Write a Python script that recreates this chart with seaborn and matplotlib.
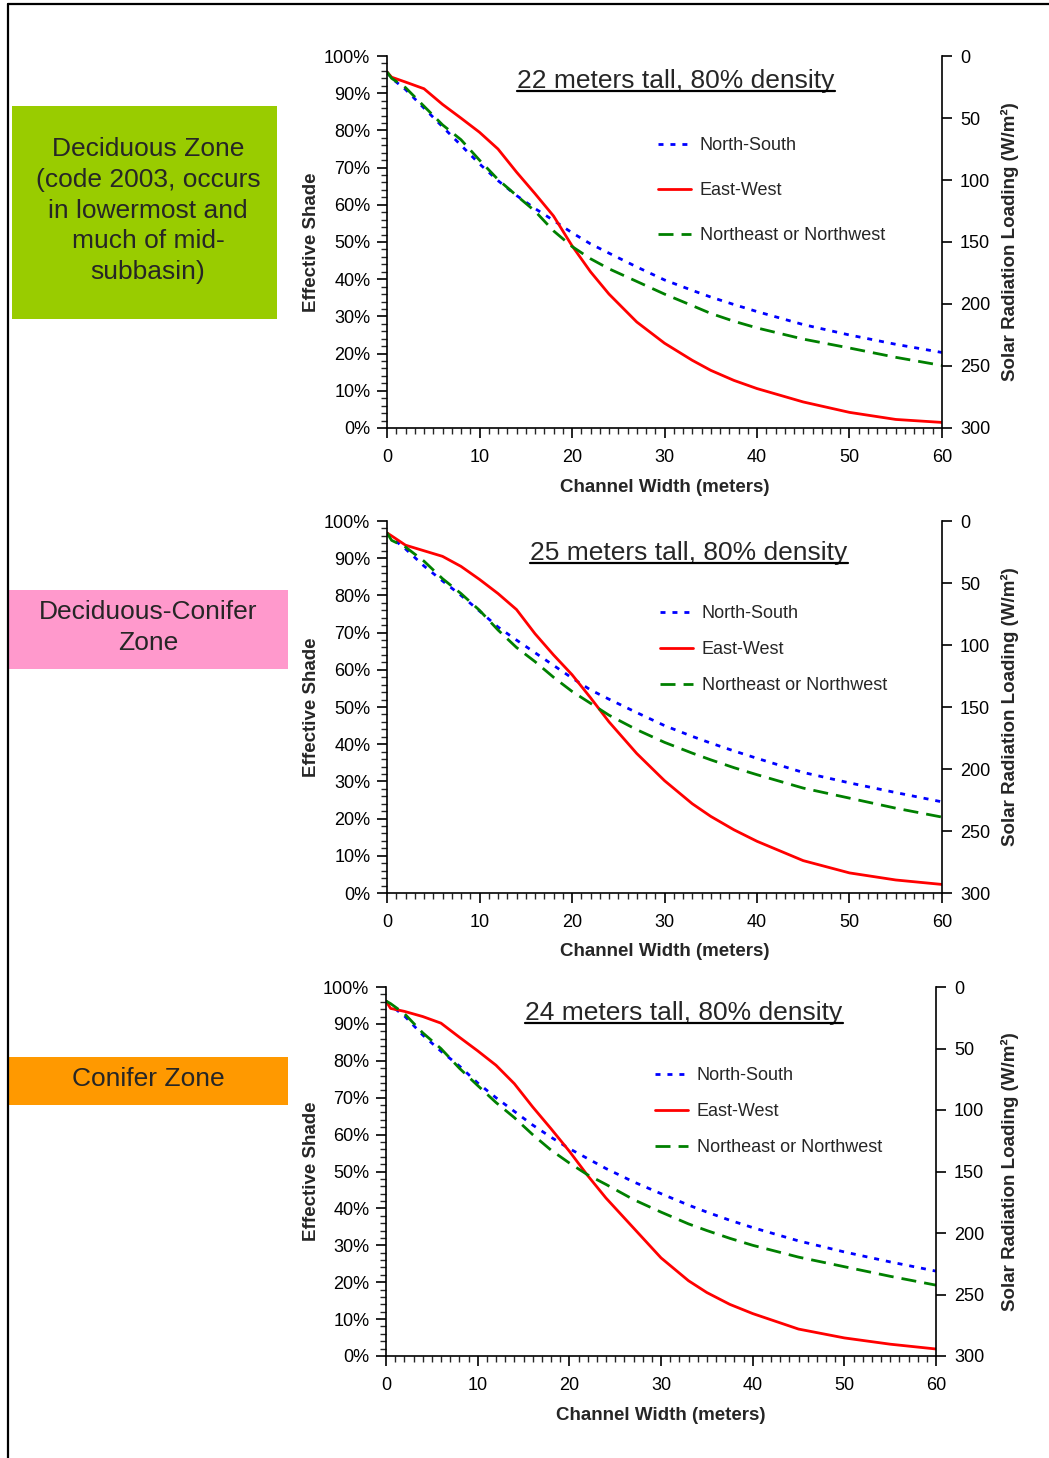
import pandas as pd
import matplotlib
matplotlib.use("Agg")
import matplotlib.pyplot as plt
import seaborn as sns
from matplotlib.ticker import MultipleLocator, FuncFormatter
from matplotlib.patches import Rectangle
from matplotlib.lines import Line2D

width_m = [0, 0.5, 2, 4, 6, 8, 10, 12, 14, 16, 18, 20, 22, 24, 27, 30, 33, 35, 37.5, 40, 45, 50, 55, 60]

# effective shade (%) - 22 m tall, 80% density
ns_22 = [95.7, 94.0, 91.0, 86.0, 81.0, 76.0, 71.0, 66.5, 62.5, 59.0, 55.8, 52.5, 49.5, 47.0, 43.3, 39.8, 37.0, 35.2, 33.2, 31.3, 27.8, 25.0, 22.5, 20.3]
ew_22 = [95.7, 94.3, 93.0, 91.2, 87.0, 83.3, 79.5, 75.0, 68.8, 63.0, 57.0, 49.0, 42.0, 36.0, 28.5, 22.8, 18.2, 15.5, 12.8, 10.6, 7.0, 4.2, 2.3, 1.5]
ne_22 = [95.7, 94.0, 91.5, 86.5, 81.5, 77.5, 72.0, 66.8, 62.5, 58.3, 53.0, 48.8, 45.5, 42.8, 39.4, 36.0, 32.9, 30.8, 28.7, 26.9, 23.9, 21.5, 19.0, 16.8]

# 25 m tall, 80% density
ns_25 = [96.8, 95.5, 92.5, 87.9, 83.9, 80.0, 75.8, 71.5, 68.0, 64.6, 61.2, 57.8, 54.6, 52.1, 48.5, 45.0, 42.1, 40.3, 38.2, 36.2, 32.4, 29.6, 27.0, 24.5]
ew_25 = [96.8, 96.0, 93.5, 92.0, 90.5, 87.8, 84.3, 80.5, 76.2, 69.7, 64.0, 58.7, 52.5, 46.0, 37.5, 30.2, 24.0, 20.6, 17.0, 13.9, 8.7, 5.4, 3.5, 2.3]
ne_25 = [96.8, 94.8, 93.0, 89.2, 84.5, 80.5, 76.0, 70.7, 66.0, 62.2, 58.0, 54.2, 51.0, 47.8, 43.9, 40.5, 37.6, 35.8, 33.7, 31.8, 28.2, 25.5, 22.8, 20.4]

# 24 m tall, 80% density
ns_24 = [96.2, 95.0, 92.2, 87.0, 82.6, 78.6, 74.0, 70.0, 66.3, 62.6, 59.3, 56.2, 53.5, 50.8, 47.2, 44.0, 40.9, 39.0, 36.8, 34.8, 31.2, 28.2, 25.5, 23.0]
ew_24 = [96.2, 94.2, 93.4, 92.0, 90.2, 86.4, 82.7, 78.8, 73.8, 67.5, 61.6, 55.5, 48.9, 42.8, 34.7, 26.6, 20.4, 17.2, 14.0, 11.5, 7.3, 4.9, 3.2, 1.9]
ne_24 = [96.2, 95.5, 92.8, 87.6, 83.3, 78.0, 73.3, 68.7, 64.6, 60.0, 55.8, 52.3, 49.1, 46.5, 42.4, 39.0, 35.8, 34.0, 31.9, 30.0, 26.8, 24.2, 21.6, 19.2]

orientations = ["North-South", "East-West", "Northeast or Northwest"]
panel_titles = ["22 meters tall, 80% density", "25 meters tall, 80% density", "24 meters tall, 80% density"]
zone_labels = ["Deciduous Zone\n(code 2003, occurs\nin lowermost and\nmuch of mid-\nsubbasin)",
               "Deciduous-Conifer\nZone", "Conifer Zone"]
panel_series = [(ns_22, ew_22, ne_22), (ns_25, ew_25, ne_25), (ns_24, ew_24, ne_24)]

sns.set_style("ticks")
plt.rcParams['font.family'] = ['Liberation Sans', 'DejaVu Sans']

W, H = 1049, 1458
fig = plt.figure(figsize=(W / 100, H / 100), dpi=100)

palette = {"North-South": "#0000FF", "East-West": "#FF0000", "Northeast or Northwest": "#008000"}
dashes = {"North-South": (1.8, 2.5), "East-West": "", "Northeast or Northwest": (5.4, 2.9)}
LW = 2.0

# pixel boxes of each axes: left, top, right, bottom
ax_px = [(387, 56, 942, 428), (387, 521, 942, 893), (386, 987, 936, 1356)]
legend_px = [(658, 137, 1.55), (660, 605, 1.05), (655, 1067, 1.05)]
title_px = [(676, 88), (689, 560), (684, 1020)]
zone_boxes = [((12, 106, 277, 319), "#99CC00"), ((8, 590, 288, 669), "#FF99CC"), ((8, 1057, 288, 1105), "#FF9900")]
zone_text_x = [148, 148, 148]

titles = []
for i in range(3):
    l, t, r, b = ax_px[i]
    ax = fig.add_axes([l / W, 1 - b / H, (r - l) / W, (b - t) / H])
    ns, ew, ne = panel_series[i]
    df = pd.DataFrame({
        "width": width_m * 3,
        "shade": ns + ew + ne,
        "orientation": [o for o in orientations for _ in width_m],
    })
    sns.lineplot(data=df, x="width", y="shade", hue="orientation", style="orientation",
                 hue_order=orientations, style_order=orientations, palette=palette,
                 dashes=dashes, linewidth=LW, estimator=None, sort=False, ax=ax)

    ax.set_xlim(0, 60)
    ax.set_ylim(0, 100)
    ax.xaxis.set_major_locator(MultipleLocator(10))
    ax.xaxis.set_minor_locator(MultipleLocator(1))
    ax.yaxis.set_major_locator(MultipleLocator(10))
    ax.yaxis.set_minor_locator(MultipleLocator(2))
    ax.yaxis.set_major_formatter(FuncFormatter(lambda v, p: f"{v:.0f}%"))
    ax.tick_params(which="major", direction="out", length=7, width=1.2, labelsize=13, pad=5, colors="black")
    ax.tick_params(which="minor", direction="out", length=4, width=1.0)
    ax.tick_params(axis="x", which="major", pad=8)
    for s in ["top", "right"]:
        ax.spines[s].set_visible(False)
    for s in ["left", "bottom"]:
        ax.spines[s].set_linewidth(1.2)
        ax.spines[s].set_color("black")

    ax.set_xlabel("Channel Width (meters)", fontsize=13.5, fontweight="bold")
    ax.set_ylabel("Effective Shade", fontsize=13.5, fontweight="bold")
    ax.xaxis.label.set_va("center")
    ax.yaxis.label.set_va("center")
    ax.xaxis.set_label_coords(0.5, -59 / (b - t))
    ax.yaxis.set_label_coords((311 - l) / (r - l), 0.5)

    # right axis: solar radiation loading
    ax2 = ax.twinx()
    ax2.set_ylim(300, 0)
    ax2.yaxis.set_major_locator(MultipleLocator(50))
    ax2.tick_params(axis="y", direction="out", length=7, width=1.2, labelsize=13, pad=6, colors="black")
    for s in ["top", "left", "bottom"]:
        ax2.spines[s].set_visible(False)
    ax2.spines["right"].set_linewidth(1.2)
    ax2.spines["right"].set_color("black")
    ax2.grid(False)
    ax2.set_ylabel("Solar Radiation Loading (W/m²)", fontsize=13.5, fontweight="bold")
    ax2.yaxis.label.set_va("center")
    ax2.yaxis.set_label_coords((1010 - l) / (r - l), 0.5)

    lx, ly, lsp = legend_px[i]
    sns.move_legend(ax, "upper left", bbox_to_anchor=((lx - l) / (r - l), (b - ly) / (b - t)),
                    frameon=False, title=None, fontsize=13, handlelength=1.8, handletextpad=0.5,
                    labelspacing=lsp, borderpad=0, borderaxespad=0)
    for h in ax.get_legend().get_lines():
        h.set_linewidth(LW)

    tx, ty = title_px[i]
    titles.append(ax.text((tx - l) / (r - l), (b - ty) / (b - t), panel_titles[i], transform=ax.transAxes,
                          ha="center", va="baseline", fontsize=19))

    (zl, zt, zr, zb), zc = zone_boxes[i]
    fig.add_artist(Rectangle((zl / W, 1 - zb / H), (zr - zl) / W, (zb - zt) / H,
                             transform=fig.transFigure, facecolor=zc, edgecolor="none"))
    fig.text(zone_text_x[i] / W, 1 - ((zt + zb) / 2 - 2) / H, zone_labels[i], ha="center", va="center",
             fontsize=19, linespacing=1.35, multialignment="center")

# underline the panel titles
fig.canvas.draw()
renderer = fig.canvas.get_renderer()
for txt in titles:
    bb = txt.get_window_extent(renderer=renderer)
    base_y = txt.get_transform().transform(txt.get_position())[1] - 2.5
    fig.add_artist(Line2D([bb.x0 / W, bb.x1 / W], [base_y / H, base_y / H],
                          transform=fig.transFigure, color="black", lw=1.6))

# page frame (top and left edges)
fig.add_artist(Line2D([8 / W, 1], [1 - 4 / H, 1 - 4 / H], transform=fig.transFigure, color="black", lw=1.6))
fig.add_artist(Line2D([8 / W, 8 / W], [0, 1 - 4 / H], transform=fig.transFigure, color="black", lw=1.6))

fig.savefig("out.png", dpi=100, facecolor="white")
